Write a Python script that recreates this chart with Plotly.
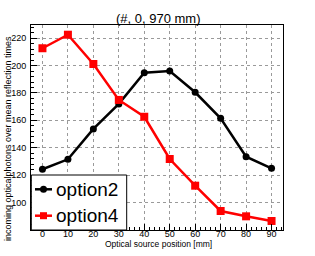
import plotly.graph_objects as go

positions = [0, 10, 20, 30, 40, 50, 60, 70, 80, 90]
option2 = [124.2, 131.5, 153.7, 172.0, 194.8, 196.1, 180.5, 161.5, 133.4, 124.9]
option4 = [212.7, 222.6, 201.2, 174.9, 162.6, 131.7, 112.2, 93.7, 89.8, 86.4]
x_ticks = [0, 10, 20, 30, 40, 50, 60, 70, 80, 90]
y_ticks = [100, 120, 140, 160, 180, 200, 220]
series_names = ["option2", "option4"]
series_colors = ["black", "#ff0000"]

FONT = "Liberation Sans, Arial, Helvetica, sans-serif"

W, H = 315, 256
# plot area in page pixels: x 31..283, y 25..230
L, T = 31, 25
R, B = W - 283, H - 230
PW, PH = W - L - R, H - T - B


def px(xp):
    return (xp - L) / PW


def py(yp):
    return (H - B - yp) / PH


fig = go.Figure()
fig.add_trace(go.Scatter(x=positions, y=option2, mode="lines+markers", name=series_names[0],
                         line=dict(color=series_colors[0], width=2.5),
                         marker=dict(symbol="circle", size=7, color=series_colors[0]),
                         showlegend=False))
fig.add_trace(go.Scatter(x=positions, y=option4, mode="lines+markers", name=series_names[1],
                         line=dict(color=series_colors[1], width=2.5),
                         marker=dict(symbol="square", size=8, color=series_colors[1]),
                         showlegend=False))

axis_common = dict(showline=True, linecolor="black", linewidth=1, mirror=True,
                   ticks="inside", ticklen=6, tickcolor="black", tickwidth=1,
                   showgrid=True, gridcolor="#9a9a9a", griddash="dot", gridwidth=1,
                   zeroline=False, automargin=False,
                   tickfont=dict(family=FONT, size=9, color="black"))

fig.update_xaxes(range=[-4.5, 94.5], tickvals=x_ticks, ticklabelstandoff=-5,
                 minor=dict(dtick=2, tick0=0, ticks="inside", ticklen=3, tickcolor="black", showgrid=False),
                 **axis_common)
fig.update_yaxes(range=[79.8, 229.7], tickvals=y_ticks, ticklabelstandoff=2,
                 minor=dict(dtick=4, tick0=0, ticks="inside", ticklen=3, tickcolor="black", showgrid=False),
                 **axis_common)

# custom legend box (ROOT style)
shapes = [dict(type="rect", xref="paper", yref="paper", x0=px(31.3), x1=px(126.7), y0=py(230), y1=py(175),
               line=dict(color="black", width=1), fillcolor="white", layer="above")]
annotations = []
rows_y = [189.3, 215.7]
for name, color, ry, sym in zip(series_names, series_colors, rows_y, ["circle", "square"]):
    shapes.append(dict(type="line", xref="paper", yref="paper", x0=px(35), x1=px(52), y0=py(ry), y1=py(ry),
                       line=dict(color=color, width=2.5), layer="above"))
    shapes.append(dict(type="circle" if sym == "circle" else "rect", xref="paper", yref="paper",
                       xsizemode="pixel", ysizemode="pixel", xanchor=px(43.5), yanchor=py(ry),
                       x0=-3.5, x1=3.5, y0=-3.5, y1=3.5,
                       line=dict(color=color, width=0), fillcolor=color, layer="above"))
    annotations.append(dict(text=name, xref="paper", yref="paper", x=px(54), y=py(ry),
                            xanchor="left", yanchor="middle", showarrow=False,
                            font=dict(family=FONT, size=19, color="black")))

annotations += [
    dict(text="(#, 0, 970 mm)", xref="paper", yref="paper", x=px(158), y=py(18.5),
         xanchor="center", yanchor="middle", showarrow=False,
         font=dict(family=FONT, size=13, color="black")),
    dict(text="incoming opticalphotons over mean reflection times", xref="paper", yref="paper",
         x=px(7.5), y=py(138.5), textangle=-90, xanchor="center", yanchor="middle", showarrow=False,
         font=dict(family=FONT, size=9, color="black")),
    dict(text="Optical source position [mm]", xref="paper", yref="paper",
         x=px(158), y=py(244), xanchor="center", yanchor="middle", showarrow=False,
         font=dict(family=FONT, size=8.5, color="black")),
]

fig.update_layout(
    width=W, height=H,
    margin=dict(l=L, r=R, t=T, b=B, pad=0),
    paper_bgcolor="white", plot_bgcolor="white",
    font=dict(family=FONT, color="black"),
    showlegend=False,
    shapes=shapes,
    annotations=annotations,
)

fig.write_html("out.html", config={"displayModeBar": False},
               post_script="document.body.style.margin='0';")
